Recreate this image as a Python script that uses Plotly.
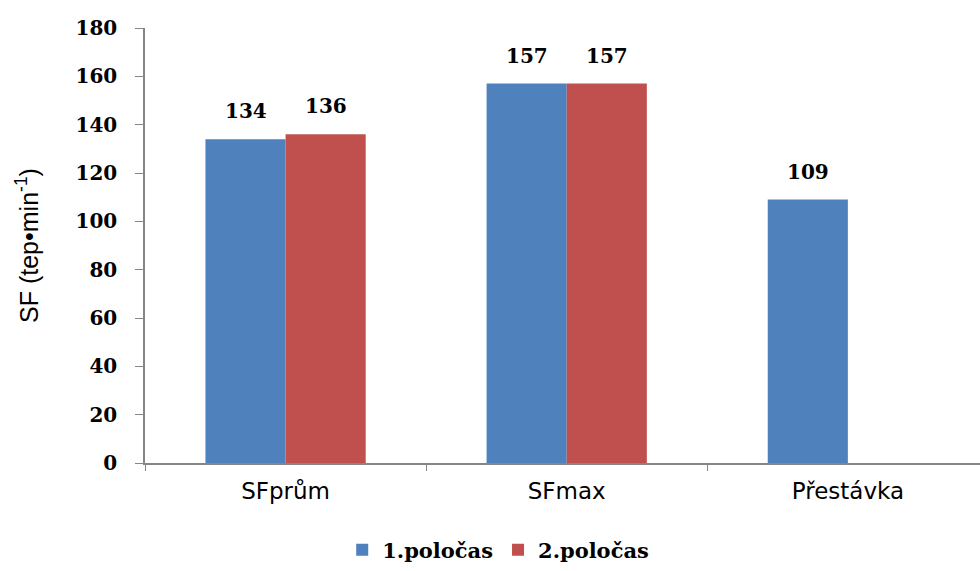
import plotly.graph_objects as go

categories = ["SFprům", "SFmax", "Přestávka"]
half1 = [134, 157, 109]
half2 = [136, 157, None]
series_names = ["1.poločas", "2.poločas"]
y_ticks = [0, 20, 40, 60, 80, 100, 120, 140, 160, 180]

blue = "#4F81BD"
red = "#C0504D"
axis_col = "#868686"
num_font = dict(family="DejaVu Serif", size=20, color="#000000", weight="bold")

fig = go.Figure()
fig.add_trace(go.Bar(x=categories, y=half1, name=series_names[0],
                     marker=dict(color=blue, line=dict(width=0))))
fig.add_trace(go.Bar(x=categories, y=half2, name=series_names[1],
                     marker=dict(color=red, line=dict(width=0))))

# data labels above each bar
bar_half_offset = 40  # px, half of a bar width
for vals, shift in ((half1, -bar_half_offset), (half2, bar_half_offset)):
    for c, v in zip(categories, vals):
        if v is None:
            continue
        fig.add_annotation(x=c, y=v, text=str(v), showarrow=False,
                           xshift=shift, yshift=28, yanchor="middle",
                           font=num_font)

fig.update_layout(
    width=980, height=571,
    margin=dict(l=145, r=0, t=28, b=108),
    paper_bgcolor="white", plot_bgcolor="white",
    barmode="group", bargap=0.43, bargroupgap=0,
    showlegend=True,
    legend=dict(orientation="h", x=0.423, xref="paper", xanchor="center",
                y=-0.2, yanchor="middle",
                font=dict(family="DejaVu Serif", size=21, color="#000000", weight="bold"),
                traceorder="normal"),
)
fig.update_xaxes(
    type="category", range=[-0.5, 2.47],
    showline=True, linecolor=axis_col, linewidth=1.5,
    ticks="outside", tickson="boundaries", ticklen=6, tickcolor=axis_col,
    ticklabelstandoff=7,
    tickfont=dict(family="DejaVu Sans", size=23, color="#000000"),
    showgrid=False, zeroline=False,
)
fig.update_yaxes(
    range=[0, 180], tickvals=y_ticks,
    showline=True, linecolor=axis_col, linewidth=1.5,
    ticks="outside", ticklen=8, tickcolor=axis_col,
    ticklabelstandoff=14,
    tickfont=num_font,
    showgrid=False, zeroline=False,
    title=dict(text="SF (tep•min<sup>-1</sup>)", standoff=30,
               font=dict(family="Liberation Sans", size=25, color="#000000")),
)

fig.write_html("out.html")
